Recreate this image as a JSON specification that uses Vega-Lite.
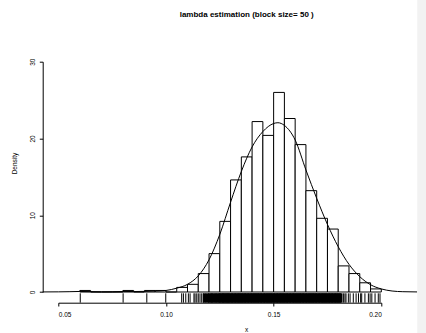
{
  "$schema": "https://vega.github.io/schema/vega-lite/v6.json",
  "width": 323,
  "height": 230.3,
  "autosize": {"type": "none"},
  "padding": {"left": 58.3, "top": 61.7, "right": 44.7, "bottom": 41},
  "background": "white",
  "config": {
    "view": {"stroke": null},
    "font": "Liberation Sans",
    "axis": {"grid": false, "domainColor": "black", "tickColor": "black", "labelColor": "black", "titleColor": "black", "labelFont": "Liberation Sans", "titleFont": "Liberation Sans", "labelFontSize": 6.5, "titleFontSize": 6.5, "titleFontWeight": "normal", "domainWidth": 1, "tickWidth": 1}
  },
  "title": {"text": "lambda estimation (block size= 50 )", "font": "Liberation Sans", "fontSize": 8, "fontWeight": "bold", "color": "black", "anchor": "middle", "dx": 26.9, "offset": -19},
  "datasets": {
    "hist": [
      {"bin_start": 0.060, "bin_end": 0.065, "density": 0.2},
      {"bin_start": 0.065, "bin_end": 0.070, "density": 0},
      {"bin_start": 0.070, "bin_end": 0.075, "density": 0},
      {"bin_start": 0.075, "bin_end": 0.080, "density": 0},
      {"bin_start": 0.080, "bin_end": 0.085, "density": 0.2},
      {"bin_start": 0.085, "bin_end": 0.090, "density": 0},
      {"bin_start": 0.090, "bin_end": 0.095, "density": 0.2},
      {"bin_start": 0.095, "bin_end": 0.100, "density": 0.2},
      {"bin_start": 0.100, "bin_end": 0.105, "density": 0},
      {"bin_start": 0.105, "bin_end": 0.110, "density": 0.6},
      {"bin_start": 0.110, "bin_end": 0.115, "density": 1.0},
      {"bin_start": 0.115, "bin_end": 0.120, "density": 2.4},
      {"bin_start": 0.120, "bin_end": 0.125, "density": 5.0},
      {"bin_start": 0.125, "bin_end": 0.130, "density": 9.2},
      {"bin_start": 0.130, "bin_end": 0.135, "density": 14.6},
      {"bin_start": 0.135, "bin_end": 0.140, "density": 17.6},
      {"bin_start": 0.140, "bin_end": 0.145, "density": 22.2},
      {"bin_start": 0.145, "bin_end": 0.150, "density": 20.4},
      {"bin_start": 0.150, "bin_end": 0.155, "density": 26.0},
      {"bin_start": 0.155, "bin_end": 0.160, "density": 22.6},
      {"bin_start": 0.160, "bin_end": 0.165, "density": 19.2},
      {"bin_start": 0.165, "bin_end": 0.170, "density": 13.2},
      {"bin_start": 0.170, "bin_end": 0.175, "density": 9.6},
      {"bin_start": 0.175, "bin_end": 0.180, "density": 8.2},
      {"bin_start": 0.180, "bin_end": 0.185, "density": 3.4},
      {"bin_start": 0.185, "bin_end": 0.190, "density": 2.4},
      {"bin_start": 0.190, "bin_end": 0.195, "density": 1.2},
      {"bin_start": 0.195, "bin_end": 0.200, "density": 0.4}
    ],
    "dens": [
      {"x": 0.0428, "density": 0.01},
      {"x": 0.050, "density": 0.02},
      {"x": 0.055, "density": 0.04},
      {"x": 0.060, "density": 0.07},
      {"x": 0.065, "density": 0.05},
      {"x": 0.070, "density": 0.02},
      {"x": 0.075, "density": 0.03},
      {"x": 0.080, "density": 0.07},
      {"x": 0.085, "density": 0.06},
      {"x": 0.090, "density": 0.08},
      {"x": 0.095, "density": 0.12},
      {"x": 0.100, "density": 0.2},
      {"x": 0.105, "density": 0.5},
      {"x": 0.110, "density": 1.0},
      {"x": 0.115, "density": 2.1},
      {"x": 0.120, "density": 4.2},
      {"x": 0.125, "density": 7.5},
      {"x": 0.130, "density": 11.7},
      {"x": 0.135, "density": 15.7},
      {"x": 0.140, "density": 18.9},
      {"x": 0.145, "density": 20.9},
      {"x": 0.150, "density": 21.95},
      {"x": 0.152, "density": 22.05},
      {"x": 0.155, "density": 21.7},
      {"x": 0.160, "density": 19.8},
      {"x": 0.165, "density": 15.9},
      {"x": 0.170, "density": 12.2},
      {"x": 0.175, "density": 8.8},
      {"x": 0.180, "density": 5.9},
      {"x": 0.185, "density": 3.6},
      {"x": 0.190, "density": 2.0},
      {"x": 0.195, "density": 0.95},
      {"x": 0.200, "density": 0.4},
      {"x": 0.205, "density": 0.13},
      {"x": 0.210, "density": 0.04},
      {"x": 0.2166, "density": 0.01}
    ],
    "rug": [
      {"x": 0.0602}, {"x": 0.0801}, {"x": 0.0911}, {"x": 0.0999}, {"x": 0.1073}, {"x": 0.1081}, {"x": 0.1092}, {"x": 0.1104}, {"x": 0.1112}, {"x": 0.1130}, {"x": 0.1135}, {"x": 0.1143}, {"x": 0.1150}, {"x": 0.1158}, {"x": 0.1166}, {"x": 0.1173}, {"x": 0.1178}, {"x": 0.1186}, {"x": 0.1195}, {"x": 0.1201}, {"x": 0.1208}, {"x": 0.1213}, {"x": 0.1219}, {"x": 0.1226}, {"x": 0.1231}, {"x": 0.1238}, {"x": 0.1244}, {"x": 0.1249}, {"x": 0.1253}, {"x": 0.1259},
      {"x": 0.1264}, {"x": 0.1268}, {"x": 0.1273}, {"x": 0.1279}, {"x": 0.1284}, {"x": 0.1288}, {"x": 0.1293}, {"x": 0.1298}, {"x": 0.1304}, {"x": 0.1308}, {"x": 0.1313}, {"x": 0.1319}, {"x": 0.1323}, {"x": 0.1328}, {"x": 0.1334}, {"x": 0.1338}, {"x": 0.1343}, {"x": 0.1349}, {"x": 0.1353}, {"x": 0.1358}, {"x": 0.1364}, {"x": 0.1368}, {"x": 0.1373}, {"x": 0.1379}, {"x": 0.1383}, {"x": 0.1388}, {"x": 0.1394}, {"x": 0.1398}, {"x": 0.1403}, {"x": 0.1409}, {"x": 0.1413}, {"x": 0.1418}, {"x": 0.1424}, {"x": 0.1428}, {"x": 0.1433}, {"x": 0.1439}, {"x": 0.1443}, {"x": 0.1448}, {"x": 0.1454}, {"x": 0.1458}, {"x": 0.1463}, {"x": 0.1469}, {"x": 0.1473}, {"x": 0.1478}, {"x": 0.1484}, {"x": 0.1488}, {"x": 0.1493}, {"x": 0.1499}, {"x": 0.1503}, {"x": 0.1508}, {"x": 0.1514}, {"x": 0.1518}, {"x": 0.1523}, {"x": 0.1529}, {"x": 0.1533}, {"x": 0.1538}, {"x": 0.1544}, {"x": 0.1548}, {"x": 0.1553}, {"x": 0.1559}, {"x": 0.1563}, {"x": 0.1568}, {"x": 0.1574}, {"x": 0.1578}, {"x": 0.1583}, {"x": 0.1589}, {"x": 0.1593}, {"x": 0.1598}, {"x": 0.1604}, {"x": 0.1608}, {"x": 0.1613}, {"x": 0.1619}, {"x": 0.1623}, {"x": 0.1628}, {"x": 0.1634}, {"x": 0.1638}, {"x": 0.1643}, {"x": 0.1649}, {"x": 0.1653}, {"x": 0.1658}, {"x": 0.1664}, {"x": 0.1668}, {"x": 0.1673}, {"x": 0.1679}, {"x": 0.1683}, {"x": 0.1688}, {"x": 0.1694}, {"x": 0.1698}, {"x": 0.1703}, {"x": 0.1709}, {"x": 0.1713}, {"x": 0.1718}, {"x": 0.1724}, {"x": 0.1728}, {"x": 0.1733}, {"x": 0.1739}, {"x": 0.1743}, {"x": 0.1748}, {"x": 0.1754}, {"x": 0.1758}, {"x": 0.1763}, {"x": 0.1769}, {"x": 0.1773}, {"x": 0.1778}, {"x": 0.1784}, {"x": 0.1788}, {"x": 0.1793}, {"x": 0.1799}, {"x": 0.1803}, {"x": 0.1808}, {"x": 0.1814},
      {"x": 0.1824}, {"x": 0.1831}, {"x": 0.1836}, {"x": 0.1847}, {"x": 0.1855}, {"x": 0.1870}, {"x": 0.1883}, {"x": 0.1894}, {"x": 0.1904}, {"x": 0.1909}, {"x": 0.1924}, {"x": 0.1940}, {"x": 0.1948}, {"x": 0.1956}, {"x": 0.1971}, {"x": 0.1986}, {"x": 0.1994}
    ]
  },
  "layer": [
    {
      "data": {"values": [{}]},
      "mark": {"type": "rect", "fill": "#f2f2f2", "strokeWidth": 0},
      "encoding": {
        "x": {"datum": 0.2167, "type": "quantitative"},
        "x2": {"datum": 0.26},
        "y": {"datum": 38.04, "type": "quantitative"},
        "y2": {"datum": -6}
      }
    },
    {
      "data": {"name": "hist"},
      "mark": {"type": "rect", "fill": "white", "stroke": "black", "strokeWidth": 1},
      "encoding": {
        "x": {"field": "bin_start", "type": "quantitative",
              "scale": {"domain": [0.05, 0.2], "nice": false, "zero": false},
              "axis": {"values": [0.05, 0.1, 0.15, 0.2], "format": ".2f", "offset": 10.7, "tickSize": 3.3, "labelPadding": 5, "labelBaseline": "top", "title": "x", "titleX": 187.7, "titleY": 26.3, "titleBaseline": "middle", "titleAnchor": null}},
        "x2": {"field": "bin_end"},
        "y": {"field": "density", "type": "quantitative",
              "scale": {"domain": [0, 30], "nice": false, "zero": true},
              "axis": {"values": [0, 5, 10, 15, 20, 25, 30], "offset": 15.6, "tickSize": 3.4, "labelAngle": 270, "labelAlign": "center", "labelBaseline": "bottom", "labelPadding": 4, "title": "Density", "titleAngle": 270, "titleX": -27.7, "titleY": 101.3, "titleAlign": "center", "titleBaseline": "middle"}},
        "y2": {"datum": 0}
      }
    },
    {
      "data": {"name": "dens"},
      "mark": {"type": "line", "color": "black", "strokeWidth": 1, "interpolate": "monotone"},
      "encoding": {
        "x": {"field": "x", "type": "quantitative"},
        "y": {"field": "density", "type": "quantitative"}
      }
    },
    {
      "data": {"name": "rug"},
      "transform": [{"filter": "datum.x < 0.1176 || datum.x > 0.1816"}],
      "mark": {"type": "rule", "color": "black", "strokeWidth": 1},
      "encoding": {
        "x": {"field": "x", "type": "quantitative"},
        "y": {"datum": -0.17},
        "y2": {"datum": -1.39}
      }
    },
    {
      "data": {"name": "rug"},
      "transform": [{"filter": "datum.x >= 0.1176 && datum.x <= 0.1816"}],
      "mark": {"type": "rule", "color": "black", "strokeWidth": 2.5},
      "encoding": {
        "x": {"field": "x", "type": "quantitative"},
        "y": {"datum": -0.17},
        "y2": {"datum": -1.39}
      }
    }
  ]
}
